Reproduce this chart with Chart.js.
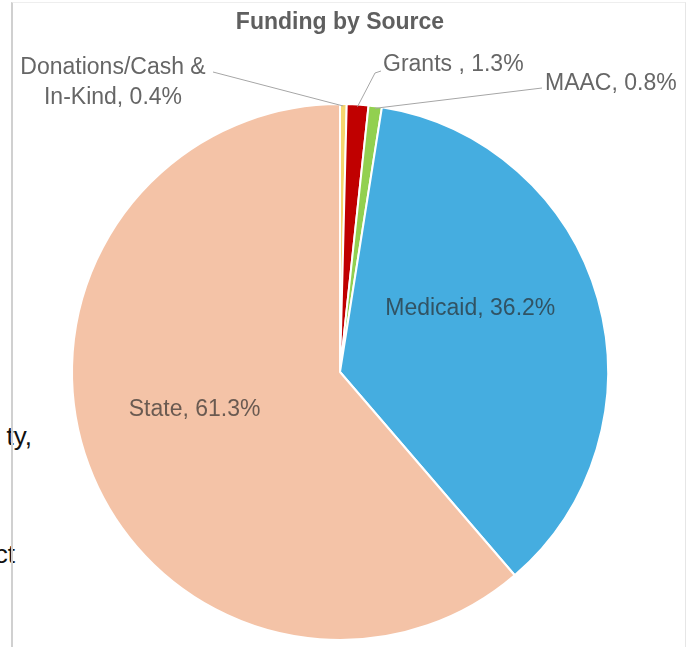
<!DOCTYPE html>
<html>
<head>
<meta charset="utf-8">
<script src="https://cdn.jsdelivr.net/npm/chart.js"></script>
<style>
  html, body { margin: 0; padding: 0; background: #fff; }
  body { width: 686px; height: 647px; position: relative; overflow: hidden; }
  .doc { position: absolute; font-family: "Liberation Sans", Arial, sans-serif; font-size: 26px; color: #111; white-space: nowrap; }
  .frame { position: absolute; left: 11px; top: 2px; width: 672px; height: 700px;
           border-left: 2px solid #d0d0d0; border-top: 1px solid #eeeeee; border-right: 1px solid #e6e6e6; }
  #wrap { position: absolute; left: 0; top: 0; width: 686px; height: 647px; }
</style>
</head>
<body>
<div class="doc" style="right: 654px; top: 421px;">ty,</div>
<div class="doc" style="right: 671px; top: 539px;">ct</div>
<div class="frame"></div>
<div id="wrap"><canvas id="pie"></canvas></div>

<script>
// slice data, clockwise from 12 o'clock
const sources = ['Donations/Cash & In-Kind', 'Grants ', 'MAAC', 'Medicaid', 'State'];
const shares = [0.4, 1.3, 0.8, 36.2, 61.3];
const sliceColors = ['#F6D66E', '#C00000', '#92D050', '#45ADE0', '#F4C3A7'];
// how each label is broken over lines
const labelLines = [['Donations/Cash &', 'In-Kind'], ['Grants '], ['MAAC'], ['Medicaid'], ['State']];

function labelText(i) {
    const lines = labelLines[i].slice();
    lines[lines.length - 1] += ', ' + shares[i].toFixed(1) + '%';
    return lines;
}

// draws excel-like data labels, positions taken from the arcs chart.js laid out
const sliceLabels = {
    id: 'sliceLabels',
    afterDatasetsDraw(chart, args, opts) {
        const ctx = chart.ctx;
        const meta = chart.getDatasetMeta(0);
        meta.data.forEach((arc, i) => {
            const p = arc.getProps(['x', 'y', 'startAngle', 'endAngle', 'outerRadius'], true);
            const mid = (p.startAngle + p.endAngle) / 2;
            const lines = labelText(i);
            const spec = opts.place[i];
            ctx.save();
            ctx.font = opts.font;
            ctx.textBaseline = 'middle';
            if (spec.inside) {
                const a = mid + spec.shift * Math.PI / 180;
                const r = p.outerRadius * spec.r;
                ctx.textAlign = 'center';
                ctx.fillStyle = opts.insideColor;
                ctx.fillText(lines[0], p.x + r * Math.cos(a), p.y + r * Math.sin(a));
            } else {
                // leader line from slice edge out to the label
                ctx.strokeStyle = opts.lineColor;
                ctx.lineWidth = 1;
                ctx.beginPath();
                ctx.moveTo(p.x + (p.outerRadius - 2) * Math.cos(mid), p.y + (p.outerRadius - 2) * Math.sin(mid));
                spec.line.forEach(pt => ctx.lineTo(p.x + pt[0], p.y + pt[1]));
                ctx.stroke();
                ctx.textAlign = spec.align;
                ctx.fillStyle = opts.outsideColor;
                lines.forEach((t, k) => ctx.fillText(t, p.x + spec.tx, p.y + spec.ty + k * opts.lineHeight));
            }
            ctx.restore();
        });
    }
};

new Chart(document.getElementById('pie'), {
    type: 'pie',
    data: {
        labels: sources,
        datasets: [{
            data: shares,
            backgroundColor: sliceColors,
            borderColor: '#ffffff',
            borderWidth: 2
        }]
    },
    options: {
        responsive: true,
        maintainAspectRatio: false,
        animation: false,
        layout: { padding: { left: 70, right: 76, top: 0, bottom: 6 } },
        plugins: {
            legend: { display: false },
            tooltip: { enabled: false },
            title: {
                display: true,
                text: 'Funding by Source',
                color: '#5f5f5f',
                font: { family: '"Liberation Sans", Arial, sans-serif', size: 23, weight: 'bold' },
                padding: { top: 9, bottom: 66.4 }
            },
            sliceLabels: {
                font: '23px "Liberation Sans", Arial, sans-serif',
                lineHeight: 30,
                insideColor: 'rgba(40, 40, 40, 0.68)',
                outsideColor: '#666666',
                lineColor: '#a6a6a6',
                place: [
                    { line: [[-127, -300]], tx: -227, ty: -304, align: 'center' },
                    { line: [[35, -299], [41, -301]], tx: 43, ty: -307, align: 'left' },
                    { line: [[202, -284]], tx: 205, ty: -288, align: 'left' },
                    { inside: true, r: 0.54, shift: -10 },
                    { inside: true, r: 0.56, shift: 6 }
                ]
            }
        }
    },
    plugins: [sliceLabels]
});
</script>
</body>
</html>
